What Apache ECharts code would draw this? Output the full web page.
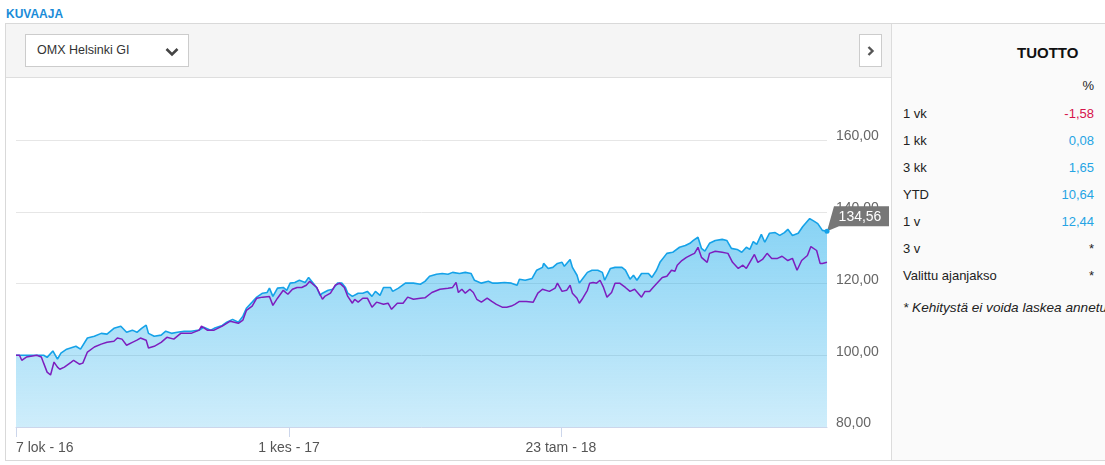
<!DOCTYPE html>
<html>
<head>
<meta charset="utf-8">
<script src="https://cdn.jsdelivr.net/npm/echarts@6/dist/echarts.min.js"></script>
<style>
  html, body { margin:0; padding:0; width:1105px; height:465px; overflow:hidden; background:#fff;
    font-family:'Liberation Sans', Arial, sans-serif; }
  .abs { position:absolute; white-space:nowrap; }
  #title { left:6px; top:7px; font-size:12px; font-weight:bold; color:#1a8cd8; line-height:14px; }
  #box { left:5px; top:23px; width:1105px; height:436px; border:1px solid #d9d9d9; border-right:none; }
  #header { left:6px; top:24px; width:885px; height:53px; background:#f5f5f5; border-bottom:1px solid #dedede; }
  #dropdown { left:25px; top:34px; width:162px; height:31px; background:#fff; border:1px solid #ccc; }
  #dropdown span { position:absolute; left:11px; top:0; line-height:31px; font-size:12.5px; color:#333; }
  #dropdown svg { position:absolute; left:139px; top:12px; }
  #navbtn { left:859px; top:34px; width:21px; height:31px; background:#fff; border:1px solid #ccc; }
  #navbtn svg { position:absolute; left:7px; top:11px; }
  #divider { left:891px; top:24px; width:1px; height:436px; background:#dcdcdc; }
  #panel { left:892px; top:24px; width:213px; height:436px; background:#fafafa; }
  #chart { left:6px; top:78px; width:885px; height:382px; }
  .pt { font-size:13px; line-height:16px; color:#222; }
</style>
</head>
<body>
<div id="title" class="abs">KUVAAJA</div>
<div id="box" class="abs"></div>
<div id="header" class="abs"></div>
<div id="panel" class="abs"></div>
<div id="divider" class="abs"></div>
<div id="dropdown" class="abs"><span>OMX Helsinki GI</span>
  <svg width="14" height="10" viewBox="0 0 14 10"><polyline points="1.5,2 7,7.5 12.5,2" fill="none" stroke="#444" stroke-width="2.6"/></svg>
</div>
<div id="navbtn" class="abs">
  <svg width="8" height="10" viewBox="0 0 8 10"><polyline points="1.5,1 5.5,5 1.5,9" fill="none" stroke="#555" stroke-width="2.4"/></svg>
</div>
<div id="chart" class="abs"></div>
<div id="panelText"></div>

<script>
// ---- Data ----
// x = days since 7.10.2016
const tickDays   = [0, 237, 473];
const tickLabels = ['7 lok - 16', '1 kes - 17', '23 tam - 18'];

// Fund (blue area) [day, value]
const fundPoints = [
  [0,100.0],[24,100.0],[27,99.4],[32,101.2],[36,98.9],[39,100.6],[44,101.7],[52,102.5],[56,101.7],
  [62,104.8],[68,105.3],[74,106.1],[79,105.9],[85,107.5],[91,108.1],[96,106.4],[101,107.0],[105,106.4],
  [109,107.5],[113,108.4],[115,106.1],[120,105.3],[126,105.6],[130,106.7],[135,106.1],[140,106.4],
  [146,106.7],[152,106.7],[159,107.0],[163,107.8],[169,107.0],[172,107.5],[179,108.3],[183,109.2],
  [188,110.0],[193,109.2],[197,110.9],[200,113.1],[205,114.8],[209,116.2],[214,117.3],[218,117.5],
  [220,118.7],[223,116.4],[227,118.7],[232,118.9],[235,118.1],[238,120.1],[242,120.3],[246,120.9],
  [251,120.3],[254,121.7],[258,120.1],[261,118.9],[264,116.7],[266,117.3],[271,118.1],[275,118.4],
  [279,120.1],[283,120.1],[286,118.9],[288,117.3],[292,116.4],[297,117.3],[301,117.3],[305,117.8],
  [309,116.4],[312,117.8],[316,116.7],[319,118.9],[325,118.9],[327,117.8],[332,118.7],[338,120.1],
  [345,120.1],[351,119.8],[355,120.6],[359,122.0],[365,122.6],[370,122.8],[375,122.6],[379,123.1],
  [385,122.8],[390,123.1],[395,122.8],[398,120.9],[404,120.1],[410,120.6],[414,120.1],[418,120.1],
  [424,120.3],[430,120.1],[435,119.5],[437,121.2],[442,120.9],[448,121.4],[452,123.7],[457,124.5],
  [458,125.6],[462,124.2],[466,124.5],[470,125.6],[474,125.9],[476,124.8],[481,126.7],[483,124.5],
  [487,122.3],[489,120.1],[492,121.4],[496,123.1],[500,123.7],[505,123.7],[509,123.1],[511,120.9],
  [516,124.2],[520,124.5],[526,124.5],[529,123.7],[533,121.2],[536,122.3],[539,120.9],[543,122.8],
  [549,122.8],[552,121.7],[556,123.7],[559,125.9],[565,128.4],[570,128.7],[576,130.1],[581,130.6],
  [585,131.2],[588,132.0],[592,132.9],[595,129.8],[598,129.0],[602,131.2],[607,132.0],[613,132.3],
  [617,132.0],[621,129.8],[626,129.5],[630,128.7],[634,130.1],[637,129.5],[640,131.7],[643,130.9],
  [647,133.7],[650,131.5],[654,134.0],[659,134.2],[663,133.4],[667,134.2],[670,135.1],[674,133.4],
  [679,134.0],[683,135.9],[689,138.1],[693,137.3],[696,136.7],[700,134.8],[704,134.56]
];

// OMX Helsinki GI (purple line) [day, value]
const indexPoints = [
  [0,100.0],[3,100.0],[5,98.6],[9,99.5],[18,100.0],[22,99.5],[24,97.8],[27,95.3],[30,94.5],[33,98.1],
  [36,96.7],[38,96.1],[42,96.7],[48,98.1],[50,98.6],[55,97.5],[58,97.8],[62,100.9],[68,102.3],[74,103.1],
  [79,103.6],[85,103.9],[88,104.8],[92,104.5],[96,102.8],[101,103.6],[105,104.2],[108,104.8],[113,104.2],
  [115,102.0],[120,102.5],[126,103.6],[131,105.0],[137,104.5],[143,106.1],[152,106.1],[159,107.0],
  [161,108.1],[166,107.0],[172,107.0],[179,108.1],[186,109.5],[193,108.9],[197,109.8],[200,112.5],
  [205,113.7],[209,115.9],[214,116.2],[220,116.4],[223,113.9],[227,115.9],[232,118.1],[236,117.0],
  [240,118.4],[244,118.9],[248,118.9],[252,119.5],[255,120.6],[261,118.9],[266,115.6],[268,116.4],
  [273,117.3],[277,119.5],[281,120.1],[285,118.9],[288,116.4],[292,114.5],[294,115.6],[297,114.8],
  [301,115.9],[305,115.9],[309,113.4],[313,114.8],[319,114.2],[323,114.5],[326,112.8],[331,114.5],
  [336,114.5],[340,116.2],[345,115.6],[351,115.9],[355,116.0],[361,117.5],[368,118.4],[375,118.7],
  [379,118.9],[382,120.3],[384,117.5],[387,118.4],[390,117.3],[394,118.4],[397,117.5],[400,115.6],
  [404,114.8],[409,115.9],[413,115.0],[417,114.2],[422,113.4],[426,113.4],[430,113.7],[433,114.2],
  [437,115.0],[443,115.0],[449,114.8],[453,117.3],[457,118.4],[463,117.8],[468,118.7],[470,120.1],
  [474,117.8],[478,118.1],[481,119.5],[483,117.3],[487,115.9],[489,114.5],[492,115.9],[496,118.1],
  [498,120.1],[501,120.3],[504,120.1],[507,120.9],[510,118.9],[513,116.2],[517,117.5],[520,120.1],
  [524,120.1],[529,118.9],[533,117.8],[537,118.4],[543,116.2],[546,117.8],[550,117.8],[553,118.9],
  [557,120.3],[561,121.7],[565,122.0],[569,123.7],[572,123.4],[574,125.1],[578,126.4],[582,127.3],
  [587,128.1],[589,128.4],[592,130.1],[595,127.3],[600,125.9],[602,128.4],[607,129.0],[613,128.7],
  [618,128.4],[622,125.9],[627,124.2],[631,125.1],[634,124.2],[637,125.9],[641,128.1],[644,125.9],
  [648,126.7],[652,128.4],[656,127.0],[661,127.0],[665,127.6],[670,126.4],[674,127.0],[678,123.7],
  [682,126.4],[687,127.8],[690,130.3],[695,129.2],[698,125.6],[700,125.6],[704,125.9]
];

const yMin = 80, yMax = 160, yStep = 20;

// Right panel (TUOTTO %)
const panelLabels = ['1 vk', '1 kk', '3 kk', 'YTD', '1 v', '3 v', 'Valittu ajanjakso'];
const panelValues = ['-1,58', '0,08', '1,65', '10,64', '12,44', '*', '*'];
const footnote = '* Kehitystä ei voida laskea annetulle ajanjaksolle';

// ---- Right panel ----
(function () {
  const host = document.getElementById('panelText');
  function add(text, css) {
    const d = document.createElement('div');
    d.className = 'abs pt';
    d.textContent = text;
    Object.assign(d.style, css);
    host.appendChild(d);
  }
  add('TUOTTO', { left:'1017px', top:'44px', fontSize:'15px', fontWeight:'bold', lineHeight:'18px', color:'#111' });
  add('%', { right:'11px', top:'78px' });
  panelLabels.forEach((lab, i) => {
    const top = (106 + i * 27) + 'px';
    add(lab, { left:'903px', top: top });
    const v = panelValues[i];
    const col = v === '*' ? '#222' : (v.charAt(0) === '-' ? '#d6134b' : '#25a4e4');
    add(v, { right:'11px', top: top, color: col });
  });
  add(footnote, { left:'903px', top:'300px', fontStyle:'italic', fontSize:'13.6px' });
})();

// ---- Chart ----
const fmt = v => v.toFixed(2).replace('.', ',');
const last = fundPoints[fundPoints.length - 1];
const chart = echarts.init(document.getElementById('chart'), null, { renderer:'canvas' });
chart.setOption({
  animation: false,
  grid: { left: 10, right: 64, top: 62, bottom: 33 },
  xAxis: {
    type: 'value', min: 0, max: last[0],
    axisLine: { show: true, lineStyle: { color: '#ccd6eb', width: 1 } },
    axisTick: { show: true, customValues: tickDays, length: 10, lineStyle: { color: '#ccd6eb' } },
    axisLabel: {
      customValues: tickDays,
      formatter: v => tickLabels[tickDays.indexOf(v)] || '',
      alignMinLabel: 'left',
      color: '#555', fontSize: 14, margin: 14,
      fontFamily: 'Liberation Sans, Arial, sans-serif'
    },
    splitLine: { show: false }
  },
  yAxis: {
    type: 'value', position: 'right', min: yMin, max: yMax, interval: yStep,
    axisLine: { show: false }, axisTick: { show: false },
    axisLabel: {
      margin: 9, color: '#666', fontSize: 14, formatter: v => fmt(v),
      verticalAlign: 'bottom', lineHeight: 7,
      fontFamily: 'Liberation Sans, Arial, sans-serif'
    },
    splitLine: { show: true, lineStyle: { color: '#e6e6e6', width: 1 } }
  },
  series: [
    {
      type: 'line', data: fundPoints, showSymbol: false, z: 2,
      lineStyle: { color: '#15a2e8', width: 1.6 },
      itemStyle: { color: '#15a2e8' },
      areaStyle: {
        origin: 'start',
        color: new echarts.graphic.LinearGradient(0, 0, 0, 1, [
          { offset: 0, color: 'rgba(25,170,235,0.74)' },
          { offset: 1, color: 'rgba(25,170,235,0.30)' }
        ])
      },
      markPoint: {
        silent: true, animation: false,
        data: [
          {
            coord: last, symbol: 'path://M0,25 L7,0 L62,0 L62,20 L12,20 Z',
            symbolSize: [62, 25], symbolOffset: [31, -12.5],
            itemStyle: { color: '#777' },
            label: { show: true, formatter: fmt(last[1]), color: '#fff', fontSize: 14,
                     offset: [2, -2], fontFamily: 'Liberation Sans, Arial, sans-serif' }
          },
          {
            coord: last, symbol: 'circle', symbolSize: 5,
            itemStyle: { color: '#15a2e8' }, label: { show: false }
          }
        ]
      }
    },
    {
      type: 'line', data: indexPoints, showSymbol: false, z: 3,
      lineStyle: { color: '#7d1ebe', width: 1.5 },
      itemStyle: { color: '#7d1ebe' }
    }
  ]
});
</script>
</body>
</html>
